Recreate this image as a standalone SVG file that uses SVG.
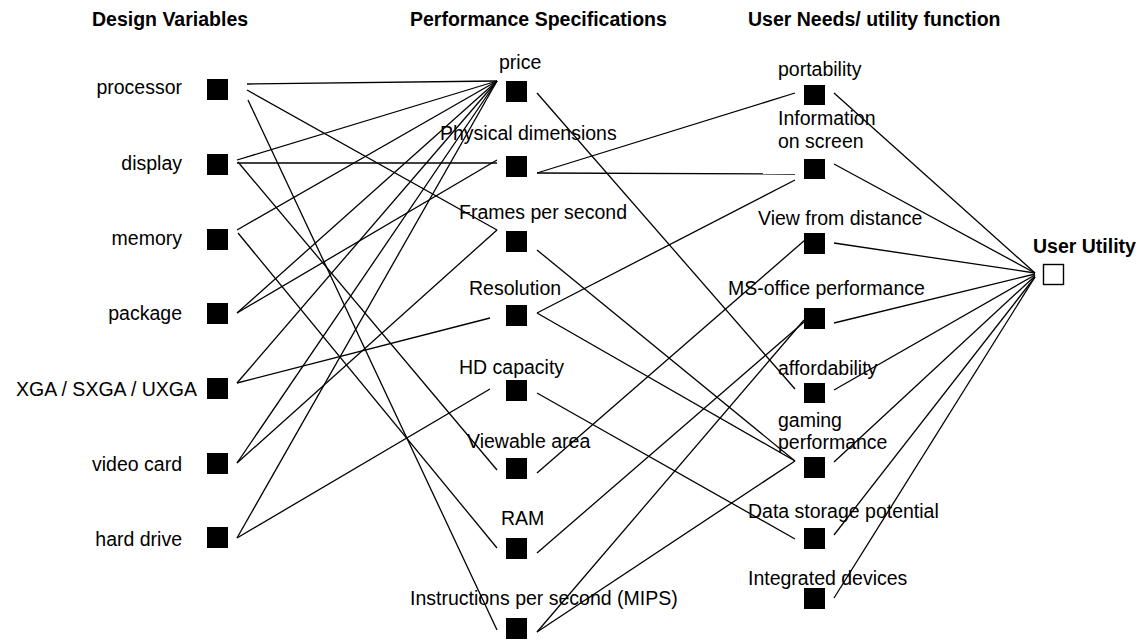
<svg xmlns="http://www.w3.org/2000/svg" width="1141" height="641" viewBox="0 0 1141 641">
<style>
  text { font-family: "Liberation Sans", Arial, sans-serif; font-size: 19.5px; fill: #000; }
  .h { font-weight: bold; }
  .r { text-anchor: end; }
  .sq { fill: #000; }
  .usq { fill: #fff; stroke: #000; stroke-width: 1.4; }
  #connectors line { stroke: #000; stroke-width: 1.3; }
</style>
<rect width="1141" height="641" fill="#fff"/>
<g id="headers">
  <text class="h" x="92" y="26">Design Variables</text>
  <text class="h" x="410" y="26">Performance Specifications</text>
  <text class="h" x="748" y="26">User Needs/ utility function</text>
</g>
<g id="connectors">
  <line x1="247" y1="84" x2="497" y2="81"/>
  <line x1="247" y1="90" x2="497" y2="230"/>
  <line x1="248" y1="100" x2="497" y2="630"/>
  <line x1="237" y1="160" x2="497" y2="81"/>
  <line x1="237" y1="163" x2="497" y2="163"/>
  <line x1="238" y1="162" x2="497" y2="470"/>
  <line x1="237" y1="230" x2="497" y2="81"/>
  <line x1="238" y1="233" x2="497" y2="548"/>
  <line x1="237" y1="313" x2="497" y2="81"/>
  <line x1="237" y1="313" x2="497" y2="160"/>
  <line x1="237" y1="383" x2="497" y2="81"/>
  <line x1="237" y1="383" x2="490" y2="318"/>
  <line x1="237" y1="463" x2="497" y2="81"/>
  <line x1="237" y1="463" x2="497" y2="230"/>
  <line x1="237" y1="538" x2="497" y2="81"/>
  <line x1="237" y1="538" x2="490" y2="389"/>
  <line x1="537" y1="93" x2="795" y2="389"/>
  <line x1="537" y1="173" x2="795" y2="93"/>
  <line x1="537" y1="173" x2="795" y2="174"/>
  <line x1="537" y1="250" x2="795" y2="461"/>
  <line x1="537" y1="313" x2="795" y2="180"/>
  <line x1="537" y1="313" x2="795" y2="461"/>
  <line x1="537" y1="393" x2="795" y2="539"/>
  <line x1="537" y1="473" x2="805" y2="240"/>
  <line x1="537" y1="553" x2="804" y2="322"/>
  <line x1="537" y1="632" x2="804" y2="320"/>
  <line x1="537" y1="632" x2="795" y2="461"/>
  <line x1="834" y1="93" x2="1035" y2="273"/>
  <line x1="834" y1="164" x2="1035" y2="273"/>
  <line x1="834" y1="243" x2="1035" y2="273"/>
  <line x1="834" y1="323" x2="1035" y2="274"/>
  <line x1="834" y1="390" x2="1035" y2="275"/>
  <line x1="834" y1="462" x2="1035" y2="276"/>
  <line x1="834" y1="535" x2="1035" y2="277"/>
  <line x1="834" y1="598" x2="1035" y2="277"/>
</g>
<g id="dv-processor"><rect class="sq" x="207" y="79" width="21" height="21"/><text class="r" x="182" y="94">processor</text></g>
<g id="dv-display"><rect class="sq" x="207" y="154" width="21" height="21"/><text class="r" x="182" y="170">display</text></g>
<g id="dv-memory"><rect class="sq" x="207" y="229" width="21" height="21"/><text class="r" x="182" y="245">memory</text></g>
<g id="dv-package"><rect class="sq" x="207" y="303" width="21" height="21"/><text class="r" x="182" y="320">package</text></g>
<g id="dv-xga"><rect class="sq" x="207" y="378" width="21" height="21"/><text class="r" x="197" y="396">XGA / SXGA / UXGA</text></g>
<g id="dv-videocard"><rect class="sq" x="207" y="453" width="21" height="21"/><text class="r" x="182" y="471">video card</text></g>
<g id="dv-harddrive"><rect class="sq" x="207" y="527" width="21" height="21"/><text class="r" x="182" y="546">hard drive</text></g>

<g id="ps-price"><rect class="sq" x="506" y="81" width="21" height="21"/><text x="499" y="69">price</text></g>
<g id="ps-physical"><rect class="sq" x="506" y="156" width="21" height="21"/><text x="440" y="140">Physical dimensions</text></g>
<g id="ps-frames"><rect class="sq" x="506" y="231" width="21" height="21"/><text x="459" y="219">Frames per second</text></g>
<g id="ps-resolution"><rect class="sq" x="506" y="305" width="21" height="21"/><text x="469" y="295">Resolution</text></g>
<g id="ps-hdcapacity"><rect class="sq" x="506" y="380" width="21" height="21"/><text x="459" y="374">HD capacity</text></g>
<g id="ps-viewable"><rect class="sq" x="506" y="458" width="21" height="21"/><text x="467" y="448">Viewable area</text></g>
<g id="ps-ram"><rect class="sq" x="506" y="538" width="21" height="21"/><text x="501" y="525">RAM</text></g>
<g id="ps-mips"><rect class="sq" x="506" y="618" width="21" height="21"/><text x="410" y="605">Instructions per second (MIPS)</text></g>

<g id="un-portability"><rect class="sq" x="804" y="85" width="21" height="20"/><text x="778" y="76">portability</text></g>
<g id="un-info"><rect class="sq" x="804" y="159" width="21" height="20"/><text x="778" y="125">Information</text><text x="778" y="148">on screen</text></g>
<g id="un-view"><rect class="sq" x="804" y="233" width="21" height="21"/><text x="758" y="225">View from distance</text></g>
<g id="un-msoffice"><rect class="sq" x="804" y="308" width="21" height="21"/><text x="728" y="295">MS-office performance</text></g>
<g id="un-afford"><rect class="sq" x="804" y="383" width="21" height="20"/><text x="778" y="375">affordability</text></g>
<g id="un-gaming"><rect class="sq" x="804" y="457" width="21" height="21"/><text x="778" y="427">gaming</text><text x="778" y="449">performance</text></g>
<g id="un-data"><rect class="sq" x="804" y="528" width="21" height="21"/><text x="748" y="518">Data storage potential</text></g>
<g id="un-integrated"><rect class="sq" x="804" y="588" width="21" height="21"/><text x="748" y="585">Integrated devices</text></g>

<g id="user-utility"><rect class="usq" x="1043.5" y="264.5" width="20" height="20"/><text class="h" x="1033" y="253">User Utility</text></g>
</svg>
